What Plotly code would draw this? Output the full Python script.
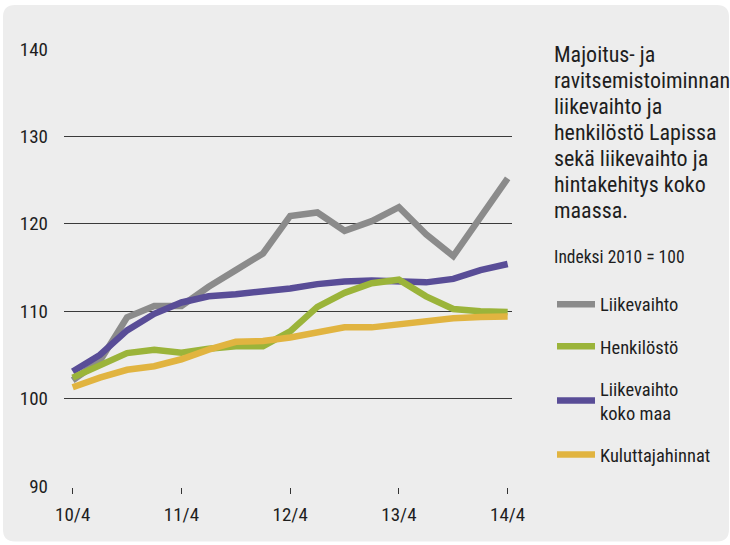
import plotly.graph_objects as go

# ---- data -------------------------------------------------------------
periods = ["10/4", "11/1", "11/2", "11/3", "11/4", "12/1", "12/2", "12/3", "12/4",
           "13/1", "13/2", "13/3", "13/4", "14/1", "14/2", "14/3", "14/4"]
tick_labels = ["10/4", "11/4", "12/4", "13/4", "14/4"]
tick_vals = [0, 1, 2, 3, 4]

liikevaihto = [102.1, 104.3, 109.3, 110.6, 110.6, 112.8, 114.7, 116.6, 120.9,
               121.3, 119.2, 120.3, 121.9, 118.8, 116.3, 120.8, 125.2]
henkilosto = [102.4, 103.9, 105.2, 105.6, 105.25, 105.7, 106.0, 106.0, 107.7,
              110.5, 112.1, 113.2, 113.6, 111.7, 110.25, 110.0, 109.9]
liikevaihto_koko_maa = [103.1, 105.0, 107.8, 109.7, 111.0, 111.7, 111.95, 112.2, 112.6,
                        113.1, 113.4, 113.5, 113.4, 113.3, 113.7, 114.7, 115.4]
kuluttajahinnat = [101.3, 102.4, 103.3, 103.7, 104.5, 105.6, 106.5, 106.6, 107.0,
                   107.5, 108.15, 108.15, 108.5, 108.9, 109.2, 109.35, 109.4]

series_names = ["Liikevaihto", "Henkilöstö", "Liikevaihto<br>koko maa", "Kuluttajahinnat"]
title_lines = ["Majoitus- ja", "ravitsemistoiminnan", "liikevaihto ja",
               "henkilöstö Lapissa", "sekä liikevaihto ja", "hintakehitys koko", "maassa."]
subtitle = "Indeksi 2010 = 100"

# ---- styling ----------------------------------------------------------
FONT = "Roboto Condensed, Liberation Sans Narrow, DejaVu Sans Condensed, sans-serif"
TXT = "#1e1e1e"
colors = {"gray": "#8b8b8b", "green": "#9bb43a", "purple": "#594d97", "yellow": "#e1b440"}

W, H = 730, 545
PL, PR, PT, PB = 64, 512, 49, 486.5


def px_x(px):
    return (px - PL) / (PR - PL)


def px_y(py):
    return (PB - py) / (PB - PT)


x = [(int(p.split("/")[0]) - 10) + (int(p.split("/")[1]) - 4) / 4 for p in periods]

fig = go.Figure()
# legend order = trace order ; drawing order via zorder (gray, purple, green, yellow)
traces = [
    (liikevaihto, series_names[0], colors["gray"], 0),
    (henkilosto, series_names[1], colors["green"], 2),
    (liikevaihto_koko_maa, series_names[2], colors["purple"], 1),
    (kuluttajahinnat, series_names[3], colors["yellow"], 3),
]
for ys, name, col, z in traces:
    fig.add_trace(go.Scatter(
        x=x, y=ys, name=name, mode="lines",
        line=dict(color=col, width=6.5),
        zorder=z, legendgroup=name,
    ))

# rounded background panel
L, T, R, B, r = 3, 5, 729, 542, 12
path = (
    f"M {px_x(L + r)},{px_y(T)} L {px_x(R - r)},{px_y(T)} "
    f"Q {px_x(R)},{px_y(T)} {px_x(R)},{px_y(T + r)} "
    f"L {px_x(R)},{px_y(B - r)} Q {px_x(R)},{px_y(B)} {px_x(R - r)},{px_y(B)} "
    f"L {px_x(L + r)},{px_y(B)} Q {px_x(L)},{px_y(B)} {px_x(L)},{px_y(B - r)} "
    f"L {px_x(L)},{px_y(T + r)} Q {px_x(L)},{px_y(T)} {px_x(L + r)},{px_y(T)} Z"
)
fig.add_shape(type="path", path=path, xref="paper", yref="paper",
              fillcolor="#ededed", line=dict(width=0), layer="below")

annotations = []
for i, line in enumerate(title_lines):
    annotations.append(dict(
        text=line, x=px_x(552), y=px_y(54.5 + 26 * i), xref="paper", yref="paper",
        xanchor="left", yanchor="middle", showarrow=False,
        font=dict(family=FONT, size=22, color=TXT),
    ))
annotations.append(dict(
    text=subtitle, x=px_x(552), y=px_y(257), xref="paper", yref="paper",
    xanchor="left", yanchor="middle", showarrow=False,
    font=dict(family=FONT, size=17.5, color=TXT),
))

fig.update_layout(
    width=W, height=H,
    margin=dict(l=PL, r=W - PR, t=PT, b=H - PB, pad=0, autoexpand=False),
    paper_bgcolor="white", plot_bgcolor="rgba(0,0,0,0)",
    font=dict(family=FONT, color=TXT),
    showlegend=True,
    legend=dict(
        x=px_x(552), y=px_y(286), xanchor="left", yanchor="top",
        bgcolor="rgba(0,0,0,0)", borderwidth=0,
        font=dict(family=FONT, size=18.5, color=TXT),
        tracegroupgap=15, itemwidth=38, traceorder="grouped",
    ),
    annotations=annotations,
    xaxis=dict(
        range=[-0.08, 4.04], tickvals=tick_vals, ticktext=tick_labels,
        showgrid=False, zeroline=False, showline=True, linecolor="#1a1a1a", linewidth=1.5,
        ticks="outside", ticklen=6, tickwidth=1, tickcolor="#333", automargin=False,
        tickfont=dict(family=FONT, size=19, color=TXT), ticklabelstandoff=4,
    ),
    yaxis=dict(
        range=[90, 140], dtick=10, tick0=90, showgrid=True, gridcolor="#3a3a3a", gridwidth=1.3,
        zeroline=False, showline=False, ticks="", automargin=False,
        tickfont=dict(family=FONT, size=19, color=TXT), ticklabelstandoff=15,
    ),
)

fig.write_html("out.html", config={"displayModeBar": False},
               post_script="document.body.style.margin='0';")
